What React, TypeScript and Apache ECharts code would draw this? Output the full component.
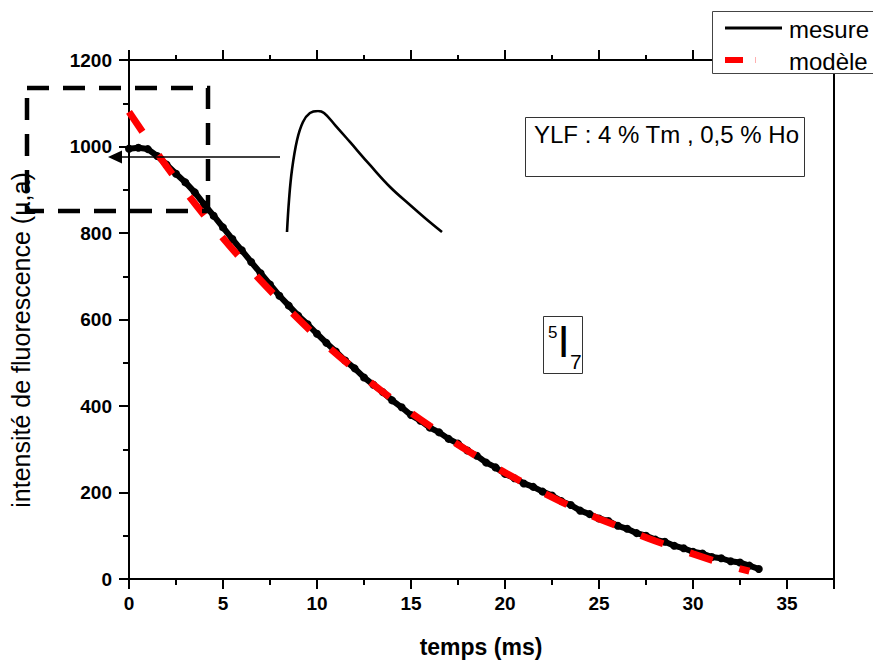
import React, { useEffect, useRef } from "react";
import * as echarts from "echarts";

// Measured decay (time in ms, intensity in a.u.)
const measTime = [
  0, 0.5, 1, 1.5, 2, 2.5, 3, 3.5, 4, 4.5, 5, 5.5, 6, 6.5, 7, 7.5, 8, 8.5, 9, 9.5,
  10, 10.5, 11, 11.5, 12, 12.5, 13, 13.5, 14, 14.5, 15, 15.5, 16, 16.5, 17, 17.5,
  18, 18.5, 19, 19.5, 20, 20.5, 21, 21.5, 22, 22.5, 23, 23.5, 24, 24.5, 25, 25.5,
  26, 26.5, 27, 27.5, 28, 28.5, 29, 29.5, 30, 30.5, 31, 31.5, 32, 32.5, 33, 33.5,
];
const measValues = [
  995, 997, 994, 978, 958, 937, 917, 894, 866, 840, 813, 786, 760, 733, 707, 681, 655, 632, 609, 589,
  567, 546, 526, 505, 487, 466, 449, 432, 413, 397, 379, 366, 350, 339, 324, 313,
  297, 285, 269, 258, 243, 233, 221, 213, 202, 193, 180, 171, 158, 150, 140, 134,
  123, 116, 106, 100, 91, 86, 77, 71, 63, 59, 51, 48, 41, 38, 31, 23,
];

// Model curve
const modelTime = [0, 2, 4, 6, 8, 10, 12, 14, 16, 18, 20, 22, 24, 26, 28, 30, 32, 33];
const modelValues = [1080, 954, 841, 738, 645, 560, 485, 416, 354, 297, 246, 200, 158, 122, 88, 58, 30, 18];

// Inset (zoom on the rise), normalized units
const insetTime = [0, 1.3, 3.2, 6.5, 10.3, 14.8, 20, 23.9, 31, 40.6, 53.5, 66.5, 79.4, 89, 100];
const insetValues = [0, 26.4, 51.2, 76, 90.9, 98.3, 100, 98.3, 88.4, 74.4, 55.4, 37.2, 22.3, 11.6, 0];

const xTicks = [0, 5, 10, 15, 20, 25, 30, 35];
const yTicks = [0, 200, 400, 600, 800, 1000, 1200];

const FONT = "'Liberation Sans', Arial, Helvetica, sans-serif";

export default function App() {
  const ref = useRef<HTMLDivElement>(null);
  useEffect(() => {
    if (!ref.current) return;
    const chart = echarts.init(ref.current, undefined, { renderer: "svg" });
    const axisLineStyle = { color: "#000", width: 2 };
    const tickLabel = {
      color: "#000",
      fontFamily: FONT,
      fontWeight: "bold" as const,
      fontSize: 19,
      formatter: (v: number) => String(v),
    };
    const option = {
      animation: false,
      backgroundColor: "#fff",
      grid: [
        { left: 129, top: 60, width: 705, height: 519 },
        { left: 287, top: 111, width: 155, height: 121 },
      ],
      xAxis: [
        {
          type: "value",
          gridIndex: 0,
          position: "bottom",
          min: xTicks[0],
          max: 37.5,
          interval: 5,
          axisLine: { show: true, onZero: false, lineStyle: axisLineStyle },
          axisTick: { show: true, length: 10, lineStyle: axisLineStyle },
          minorTick: { show: true, splitNumber: 2, length: 6, lineStyle: axisLineStyle },
          splitLine: { show: false },
          axisLabel: { ...tickLabel, margin: 15, showMaxLabel: false },
        },
        {
          type: "value",
          gridIndex: 0,
          position: "top",
          min: xTicks[0],
          max: 37.5,
          interval: 5,
          axisLine: { show: true, onZero: false, lineStyle: axisLineStyle },
          axisTick: { show: true, length: 10, lineStyle: axisLineStyle },
          minorTick: { show: true, splitNumber: 2, length: 5, lineStyle: axisLineStyle },
          splitLine: { show: false },
          axisLabel: { show: false },
        },
        { type: "value", gridIndex: 1, min: 0, max: 100, show: false },
      ],
      yAxis: [
        {
          type: "value",
          gridIndex: 0,
          position: "left",
          min: yTicks[0],
          max: yTicks[yTicks.length - 1],
          interval: 200,
          axisLine: { show: true, onZero: false, lineStyle: axisLineStyle },
          axisTick: { show: true, length: 10, lineStyle: axisLineStyle },
          minorTick: { show: true, splitNumber: 2, length: 6, lineStyle: axisLineStyle },
          splitLine: { show: false },
          axisLabel: { ...tickLabel, margin: 17 },
        },
        {
          type: "value",
          gridIndex: 0,
          position: "right",
          min: 0,
          max: 1200,
          interval: 200,
          axisLine: { show: true, onZero: false, lineStyle: axisLineStyle },
          axisTick: { show: false },
          splitLine: { show: false },
          axisLabel: { show: false },
        },
        { type: "value", gridIndex: 1, min: 0, max: 100, show: false },
      ],
      series: [
        {
          name: "mesure",
          type: "line",
          xAxisIndex: 0,
          yAxisIndex: 0,
          data: measTime.map((t, i) => [t, measValues[i]]),
          symbol: "circle",
          symbolSize: 8,
          showSymbol: true,
          itemStyle: { color: "#000" },
          lineStyle: { color: "#000", width: 6 },
          z: 2,
        },
        {
          name: "modèle",
          type: "line",
          xAxisIndex: 0,
          yAxisIndex: 0,
          data: modelTime.map((t, i) => [t, modelValues[i]]),
          showSymbol: false,
          smooth: 0.3,
          lineStyle: { color: "#ff0000", width: 7, type: [24, 28], cap: "butt" },
          z: 3,
        },
        {
          name: "inset",
          type: "line",
          xAxisIndex: 2,
          yAxisIndex: 2,
          data: insetTime.map((t, i) => [t, insetValues[i]]),
          showSymbol: false,
          smooth: 0.4,
          lineStyle: { color: "#000", width: 2.6 },
          z: 2,
        },
      ],
      graphic: [
        {
          type: "rect",
          z: 50,
          shape: { x: 27, y: 88, width: 181, height: 123 },
          style: { fill: "none", stroke: "#000", lineWidth: 4.5, lineDash: [22, 14] },
        },
        {
          type: "line",
          z: 50,
          shape: { x1: 120, y1: 157, x2: 280, y2: 157 },
          style: { stroke: "#000", lineWidth: 1.6 },
        },
        {
          type: "polygon",
          z: 50,
          shape: { points: [[108, 157], [122, 150.5], [122, 163.5]] },
          style: { fill: "#000" },
        },
        {
          type: "text",
          z: 50,
          x: 21,
          y: 340,
          rotation: Math.PI / 2,
          style: {
            text: "intensité de fluorescence (µ,a)",
            font: `25px ${FONT}`,
            fill: "#000",
            align: "center",
            verticalAlign: "middle",
          },
        },
        {
          type: "text",
          z: 50,
          x: 481,
          y: 647,
          style: {
            text: "temps (ms)",
            font: `bold 23px ${FONT}`,
            fill: "#000",
            align: "center",
            verticalAlign: "middle",
          },
        },
        {
          type: "rect",
          z: 50,
          shape: { x: 525.5, y: 117.5, width: 279, height: 59 },
          style: { fill: "#fff", stroke: "#333", lineWidth: 1 },
        },
        {
          type: "text",
          z: 51,
          x: 534,
          y: 134,
          style: {
            text: "YLF : 4 % Tm , 0,5 % Ho",
            font: `24px ${FONT}`,
            fill: "#000",
            align: "left",
            verticalAlign: "middle",
          },
        },
        {
          type: "rect",
          z: 50,
          shape: { x: 543.5, y: 316.5, width: 39, height: 57 },
          style: { fill: "#fff", stroke: "#333", lineWidth: 1 },
        },
        {
          type: "text",
          z: 51,
          x: 548,
          y: 332,
          style: { text: "5", font: `17px ${FONT}`, fill: "#000", align: "left", verticalAlign: "middle" },
        },
        {
          type: "text",
          z: 51,
          x: 557.5,
          y: 341,
          style: { text: "I", font: `44px ${FONT}`, fill: "#000", align: "left", verticalAlign: "middle" },
        },
        {
          type: "text",
          z: 51,
          x: 570,
          y: 361,
          style: { text: "7", font: `21px ${FONT}`, fill: "#000", align: "left", verticalAlign: "middle" },
        },
        {
          type: "rect",
          z: 60,
          shape: { x: 712.5, y: 11.5, width: 200, height: 62 },
          style: { fill: "#fff", stroke: "#444", lineWidth: 1 },
        },
        {
          type: "line",
          z: 61,
          shape: { x1: 725, y1: 28, x2: 782, y2: 28 },
          style: { stroke: "#000", lineWidth: 3 },
        },
        {
          type: "rect",
          z: 61,
          shape: { x: 725, y: 57, width: 18, height: 6 },
          style: { fill: "#ff0000" },
        },
        {
          type: "rect",
          z: 61,
          shape: { x: 755, y: 57, width: 1, height: 6 },
          style: { fill: "#ffb0b0" },
        },
        {
          type: "text",
          z: 61,
          x: 789,
          y: 29,
          style: { text: "mesure", font: `24px ${FONT}`, fill: "#000", align: "left", verticalAlign: "middle" },
        },
        {
          type: "text",
          z: 61,
          x: 789,
          y: 61,
          style: { text: "modèle", font: `24px ${FONT}`, fill: "#000", align: "left", verticalAlign: "middle" },
        },
      ],
    };
    chart.setOption(option as any);
    return () => chart.dispose();
  }, []);
  return (
    <div
      ref={ref}
      style={{ position: "absolute", left: 0, top: 0, width: 873, height: 662, background: "#fff" }}
    />
  );
}
